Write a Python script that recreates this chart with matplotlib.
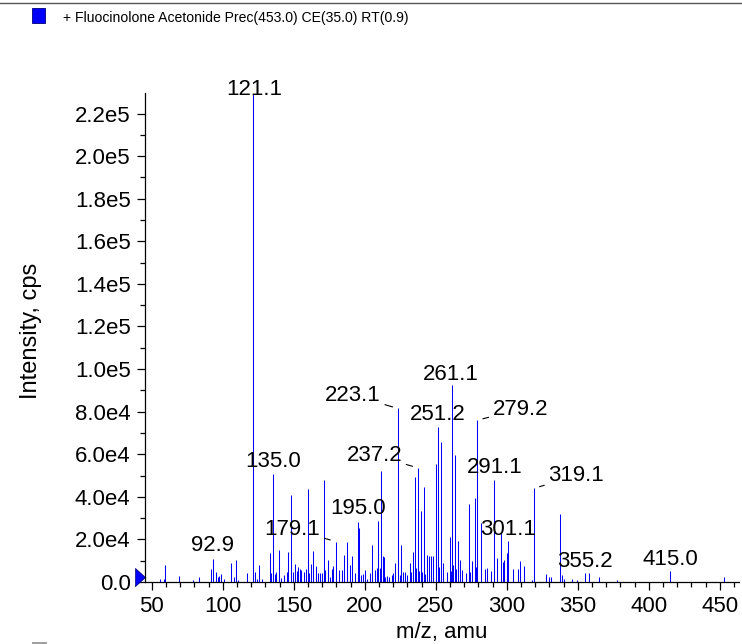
import matplotlib
matplotlib.use("Agg")
import matplotlib.pyplot as plt
from matplotlib.ticker import MultipleLocator, FuncFormatter
from matplotlib.patches import Rectangle
from matplotlib.lines import Line2D
import matplotlib.transforms as mtransforms

plt.rcParams['font.family'] = ['Liberation Sans', 'DejaVu Sans']

title = "+ Fluocinolone Acetonide Prec(453.0) CE(35.0) RT(0.9)"
x_label = "m/z, amu"
y_label = "Intensity, cps"

# peak m/z values and intensities (cps)
mz = [55.4, 58.2, 59.1, 69.2, 79.3, 83.5, 91.3, 92.9, 95.5, 96.9, 97.6, 98.8,
      101.1, 105.4, 107.5, 109.2, 111.0, 117.3, 121.1, 122.9, 123.7, 125.2, 127.4,
      133.4, 134.2, 135.1, 136.4, 137.5, 139.2, 141.2, 142.9, 145.1, 145.8, 147.8,
      149.3, 151.1, 152.1, 153.0, 154.2, 155.3, 156.8, 158.3, 159.6, 161.0, 162.2,
      163.2, 165.6, 167.3, 168.6, 169.7, 171.1, 172.2, 173.7, 175.1, 176.8, 177.6,
      179.4, 181.7, 183.6, 185.2, 187.2, 189.2, 191.1, 192.9, 194.9, 195.9, 197.5,
      198.6, 200.4, 201.6, 203.5, 205.3, 207.3, 208.2, 209.6, 210.4, 211.3, 212.6,
      213.4, 214.2, 215.5, 216.9, 219.2, 220.1, 221.5, 223.3, 224.5, 225.3, 226.8,
      228.4, 229.6, 231.7, 232.8, 233.8, 235.2, 236.3, 237.3, 238.3, 239.6, 240.4,
      241.3, 242.4, 243.6, 245.0, 246.5, 247.9, 249.8, 251.4, 252.4, 253.3, 254.9,
      257.5, 259.7, 260.5, 261.6, 262.4, 263.4, 264.3, 265.3, 267.2, 268.3, 271.2,
      273.3, 274.3, 275.6, 277.4, 278.3, 279.3, 281.5, 284.7, 285.9, 288.7, 291.3,
      293.4, 295.8, 297.2, 298.1, 300.0, 301.1, 304.3, 307.5, 309.5, 311.8, 317.6,
      319.3, 327.3, 329.6, 331.2, 337.3, 339.1, 340.1, 345.8, 349.3, 355.3, 357.6,
      365.2, 377.7, 415.1, 453.2]
intensity = [1300, 1200, 7800, 2700, 900, 2200, 6000, 10700, 4500, 2500, 2600, 3700,
             1200, 8800, 2200, 10200, 800, 4100, 229000, 4700, 1200, 7900, 1500,
             13600, 4000, 50500, 3700, 4900, 15200, 2000, 3500, 4500, 13900, 40700,
             4800, 8400, 5000, 7200, 5900, 5600, 4500, 6200, 43800, 4000, 8300,
             14700, 7500, 4000, 4200, 4400, 48000, 5500, 10200, 2200, 5900, 7600,
             19000, 5600, 5800, 12500, 19000, 7800, 12300, 4000, 28300, 25300, 3500,
             3700, 5600, 1500, 4000, 17300, 5500, 6400, 28500, 6500, 52300, 12100,
             11700, 2500, 3000, 2200, 3200, 4000, 8700, 81500, 3500, 17300, 4800,
             4500, 3300, 8700, 4500, 14000, 49500, 6500, 53600, 5000, 33200, 4500,
             44500, 3800, 12600, 12100, 12100, 12100, 55600, 72600, 7000, 65700, 8700,
             4500, 21000, 5200, 92400, 8000, 59800, 6100, 19200, 10300, 5500, 4200,
             36800, 4600, 10000, 39300, 7000, 76000, 27700, 5900, 6400, 5000, 48000,
             11400, 23500, 9300, 10300, 13400, 19200, 6000, 5900, 10000, 7500, 1000,
             44000, 3900, 2500, 2500, 32000, 3300, 1200, 1200, 900, 4200, 4100,
             2200, 1000, 5000, 2300]

# labelled peaks
label_mz = [121.1, 135.1, 92.9, 179.4, 194.9, 223.3, 237.3, 251.4, 261.6, 279.3,
            291.3, 301.1, 319.3, 355.3, 415.1]
label_text = ["121.1", "135.0", "92.9", "179.1", "195.0", "223.1", "237.2", "251.2",
              "261.1", "279.2", "291.1", "301.1", "319.1", "355.2", "415.0"]

x_ticks_major = [50, 100, 150, 200, 250, 300, 350, 400, 450]

W, H = 742, 644
fig = plt.figure(figsize=(W / 100, H / 100), dpi=100)
ax = fig.add_axes([144.5 / W, 1 - 582 / H, (739 - 144.5) / W, (582 - 93.3) / H])

ax.vlines(mz, 0, intensity, colors='#0000ff', linewidth=0.75)

ax.set_xlim(44.8, 463.5)
ax.set_ylim(0, 229500)

for s in ['top', 'right']:
    ax.spines[s].set_visible(False)
for s in ['left', 'bottom']:
    ax.spines[s].set_linewidth(0.9)

ax.set_xticks(x_ticks_major)
ax.xaxis.set_minor_locator(MultipleLocator(10))
ax.yaxis.set_major_locator(MultipleLocator(20000))
ax.yaxis.set_minor_locator(MultipleLocator(10000))


def yfmt(v, pos):
    if abs(v) < 1e-9:
        return "0.0"
    s = "%.1e" % v
    m, e = s.split('e')
    return "%se%d" % (m, int(e))


ax.yaxis.set_major_formatter(FuncFormatter(yfmt))
ax.tick_params(axis='both', which='major', length=6, width=0.9, labelsize=16, pad=4)
ax.tick_params(axis='both', which='minor', length=3.5, width=0.9)

ax.set_xlabel(x_label, fontsize=16, labelpad=4)
ax.set_ylabel(y_label, fontsize=17)
ax.yaxis.set_label_coords((42 - 144.5) / 594.5, (582 - 331) / 488.7)

# peak labels
offsets = {"121.1": (1, 5, False), "135.0": (0, 13, False), "92.9": (0, 13.5, False),
           "179.1": (-43, 12.5, True), "195.0": (0, 13, False), "223.1": (-45, 13, True),
           "237.2": (-43.5, 12.7, True), "251.2": (0, 12.7, False), "261.1": (-2, 11, False),
           "279.2": (43, 11, True), "291.1": (0, 12.5, False), "301.1": (0, 12, False),
           "319.1": (42, 12.7, True), "355.2": (0, 11.5, False), "415.0": (0, 12, False)}
for m, t in zip(label_mz, label_text):
    yv = intensity[mz.index(m)]
    dx, dy, lead = offsets[t]
    kw = {}
    if lead:
        kw['arrowprops'] = dict(arrowstyle='-', color='black', lw=0.8, shrinkA=1, shrinkB=4)
    ax.annotate(t, xy=(m, yv), xytext=(dx, dy), textcoords='offset pixels',
                ha='center', va='center', fontsize=16, annotation_clip=False, **kw)

# zero marker triangle (elongated, pointing right)
tri = [(-0.55, -1.0), (0.55, 0.0), (-0.55, 1.0), (-0.55, -1.0)]
trans = ax.get_yaxis_transform() + mtransforms.ScaledTranslation(0, 5 / 100, fig.dpi_scale_trans)
ax.plot([-4.8 / 594.5], [0], marker=tri, markersize=13, color='#0000ff', mec='#00006a',
        mew=0.5, transform=trans, clip_on=False)

# header: top rule, legend square, title
fig.add_artist(Line2D([0, 1], [1 - 2.5 / H, 1 - 2.5 / H], color='#555555', lw=1))
fig.add_artist(Rectangle((32 / W, 1 - 23 / H), 13 / W, 15 / H, facecolor='#0000ff',
                         edgecolor='#00007a', lw=0.6))
fig.text(63 / W, 1 - 18 / H, title, fontsize=10.1, va='center', ha='left')
# partially visible second legend square at bottom
fig.add_artist(Rectangle((32 / W, -2 / H), 15 / W, 4 / H, facecolor='#a0a0a0',
                         edgecolor='none'))

fig.savefig("out.png", dpi=100)
